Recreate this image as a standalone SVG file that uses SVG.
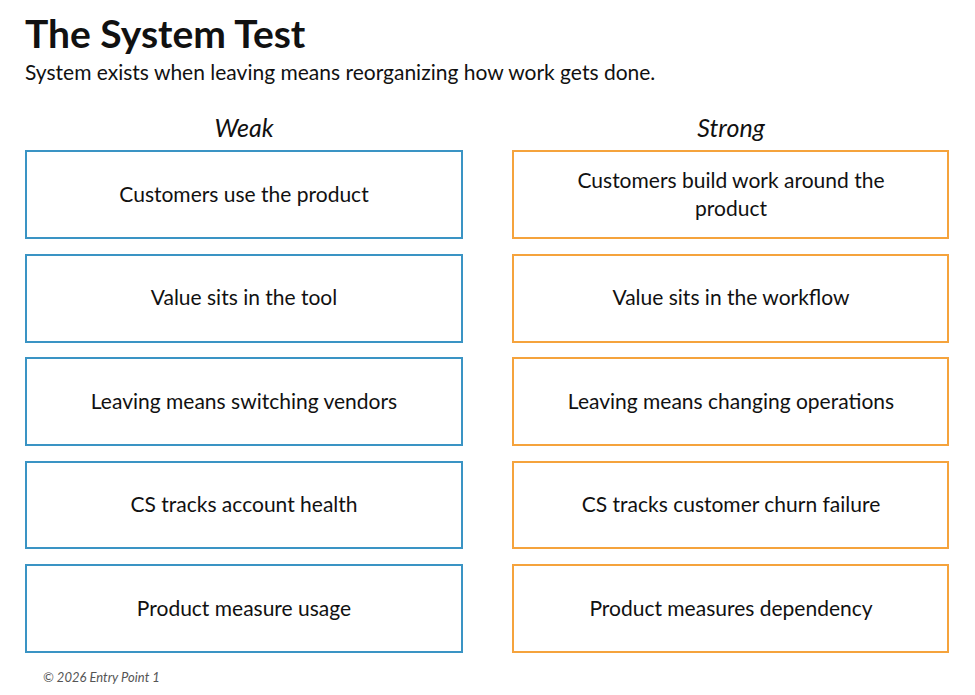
<svg xmlns="http://www.w3.org/2000/svg" width="975" height="695" viewBox="0 0 975 695">
<style>
text{font-family:Lato,"Open Sans",sans-serif;fill:#111}
.w rect{fill:#fff;stroke:#3a94c4;stroke-width:2}
.s rect{fill:#fff;stroke:#f5a33c;stroke-width:2}
.t{font-size:21px;text-anchor:middle}
.h{font-size:25px;font-style:italic;text-anchor:middle}
</style>
<rect width="975" height="695" fill="#fff"/>
<text x="25" y="48" font-size="39" font-weight="bold">The System Test</text>
<text x="25" y="80" font-size="21">System exists when leaving means reorganizing how work gets done.</text>
<text class="h" x="244" y="137">Weak</text>
<text class="h" x="731" y="137">Strong</text>
<g id="w1" class="w"><rect x="26" y="151" width="436" height="87"/><text class="t" x="244" y="202">Customers use the product</text></g>
<g id="w2" class="w"><rect x="26" y="255" width="436" height="87"/><text class="t" x="244" y="305">Value sits in the tool</text></g>
<g id="w3" class="w"><rect x="26" y="358" width="436" height="87"/><text class="t" x="244" y="409">Leaving means switching vendors</text></g>
<g id="w4" class="w"><rect x="26" y="462" width="436" height="86"/><text class="t" x="244" y="512">CS tracks account health</text></g>
<g id="w5" class="w"><rect x="26" y="565" width="436" height="87"/><text class="t" x="244" y="616">Product measure usage</text></g>
<g id="s1" class="s"><rect x="513" y="151" width="435" height="87"/><text class="t" x="731" y="188">Customers build work around the</text><text class="t" x="731" y="216">product</text></g>
<g id="s2" class="s"><rect x="513" y="255" width="435" height="87"/><text class="t" x="731" y="305">Value sits in the workflow</text></g>
<g id="s3" class="s"><rect x="513" y="358" width="435" height="87"/><text class="t" x="731" y="409">Leaving means changing operations</text></g>
<g id="s4" class="s"><rect x="513" y="462" width="435" height="86"/><text class="t" x="731" y="512">CS tracks customer churn failure</text></g>
<g id="s5" class="s"><rect x="513" y="565" width="435" height="87"/><text class="t" x="731" y="616">Product measures dependency</text></g>
<g id="connectors"/>
<text x="43" y="682" font-size="13" font-style="italic" fill="#555" style="fill:#555">© 2026 Entry Point 1</text>
</svg>
